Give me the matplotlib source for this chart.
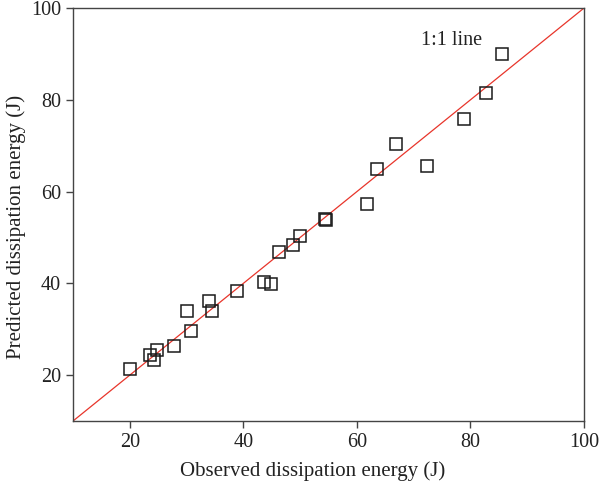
import matplotlib
matplotlib.use("Agg")
import matplotlib.pyplot as plt

# observed vs predicted dissipation energy (J)
observed = [20.0, 23.6, 24.2, 24.8, 27.8, 30.7, 30.1, 34.0, 34.4, 38.9,
            43.6, 44.8, 46.2, 48.7, 49.9, 54.3, 54.6, 61.8, 63.5, 66.8,
            72.3, 78.9, 82.7, 85.5]
predicted = [21.3, 24.4, 23.3, 25.4, 26.3, 29.6, 34.0, 36.1, 34.0, 38.3,
             40.4, 39.9, 46.8, 48.3, 50.3, 54.1, 53.9, 57.4, 64.9, 70.4,
             65.6, 75.9, 81.4, 90.0]
one_to_one = [10, 100]

plt.rcParams['font.family'] = ['Liberation Serif', 'DejaVu Serif']

fig = plt.figure(figsize=(5.99, 4.87), dpi=100)
ax = fig.add_axes([0.1219, 0.1355, 0.8531, 0.848])

# 1:1 reference line
ax.plot(one_to_one, one_to_one, color='#e8352b', linewidth=0.9, zorder=2)

# data points as open squares
ax.plot(observed, predicted, linestyle='none', marker='s', markersize=8.2,
        markerfacecolor='none', markeredgecolor='#1a1a1a',
        markeredgewidth=1.1, zorder=3)

ax.text(76.7, 92.9, '1:1 line', ha='center', va='center', fontsize=14.5,
        color='#222222')

ax.set_xlim(10, 100)
ax.set_ylim(10, 100)
ax.set_xticks([20, 40, 60, 80, 100])
ax.set_yticks([20, 40, 60, 80, 100])

ax.set_xlabel('Observed dissipation energy (J)', fontsize=15, color='#222222',
              labelpad=7)
ax.set_ylabel('Predicted dissipation energy (J)', fontsize=15, color='#222222',
              labelpad=3.5)
# labels sit a little off-centre in the original
ax.xaxis.label.set_x(0.469)
ax.yaxis.label.set_y(0.469)

for side in ax.spines.values():
    side.set_color('#444444')
    side.set_linewidth(1.0)

ax.tick_params(axis='both', direction='out', length=5, width=1.0,
               colors='#444444', labelcolor='#222222', labelsize=14.5)

fig.savefig('out.png', dpi=100, facecolor='white')
